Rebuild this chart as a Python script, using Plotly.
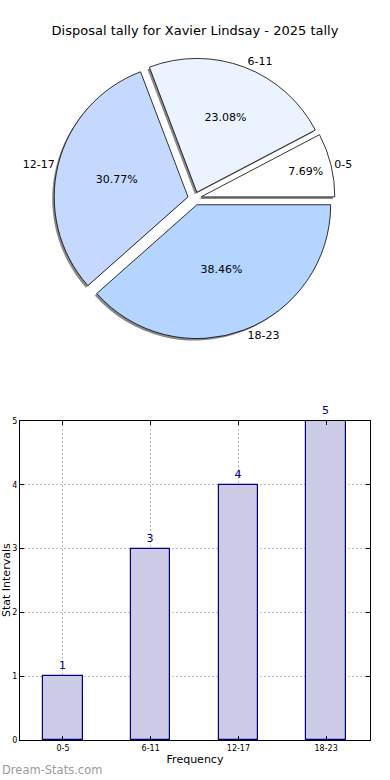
import plotly.graph_objects as go

categories = ["0-5", "6-11", "12-17", "18-23"]
counts = [1, 3, 4, 5]
pie_colors = ["#ffffff", "#ebf3ff", "#c5d9ff", "#b3d5ff"]
title_text = "Disposal tally for Xavier Lindsay - 2025 tally"

W, H = 390, 780
FONT = "DejaVu Sans"

def px_x(x):
    return x / W

def px_y(y):
    return 1 - y / H

pull = [0.05] * len(categories)
rot = 62.3

# pie domain (pixels)
pl, pr, pt, pb = 54, 335, 58, 339
shadow_dx, shadow_dy = -2, 2

fig = go.Figure()

# shadow
fig.add_trace(go.Pie(
    labels=categories, values=counts, sort=False, direction="counterclockwise",
    rotation=rot, pull=pull,
    marker=dict(colors=["#8a8a8a"] * 4, line=dict(width=0)),
    textinfo="none", hoverinfo="skip", showlegend=False,
    domain=dict(x=[px_x(pl + shadow_dx), px_x(pr + shadow_dx)],
                y=[px_y(pb + shadow_dy), px_y(pt + shadow_dy)]),
))

# main pie with percents inside
fig.add_trace(go.Pie(
    labels=categories, values=counts, sort=False, direction="counterclockwise",
    rotation=rot, pull=pull,
    marker=dict(colors=pie_colors, line=dict(color="black", width=0.8)),
    texttemplate="%{percent:.2%}", textposition="inside",
    insidetextorientation="horizontal",
    textfont=dict(family=FONT, size=11, color="black"),
    showlegend=False,
    domain=dict(x=[px_x(pl), px_x(pr)], y=[px_y(pb), px_y(pt)]),
))

# labels outside
fig.add_trace(go.Pie(
    labels=categories, values=counts, sort=False, direction="counterclockwise",
    rotation=rot, pull=pull,
    marker=dict(colors=["rgba(0,0,0,0)"] * 4, line=dict(width=0)),
    textinfo="label", textposition="outside",
    textfont=dict(family=FONT, size=11, color="black"),
    hoverinfo="skip", showlegend=False,
    domain=dict(x=[px_x(pl), px_x(pr)], y=[px_y(pb), px_y(pt)]),
))

# bar chart
fig.add_trace(go.Bar(
    x=categories, y=counts, width=0.45,
    marker=dict(color="#ccccE6", line=dict(color="#000080", width=1.2)),
    text=[str(v) for v in counts], textposition="outside",
    textfont=dict(family=FONT, size=11, color="#000080"),
    cliponaxis=False, showlegend=False,
    xaxis="x", yaxis="y",
))

axis_common = dict(
    showline=True, linecolor="black", linewidth=1, mirror="ticks",
    ticks="inside", ticklen=4, tickcolor="black",
    showgrid=True, gridcolor="#bdbdbd", griddash="2px,2px", gridwidth=1,
    zeroline=False, automargin=False,
    tickfont=dict(family=FONT, size=8, color="black"),
)

fig.update_layout(
    width=W, height=H,
    margin=dict(l=0, r=0, t=0, b=0, autoexpand=False),
    paper_bgcolor="white", plot_bgcolor="white",
    font=dict(family=FONT, color="black"),
    title=dict(text=title_text, x=0.5, xanchor="center", y=px_y(30), yanchor="middle",
               yref="container", automargin=False,
               font=dict(family=FONT, size=13, color="black")),
    xaxis=dict(domain=[px_x(20), px_x(370)], range=[-0.49, 3.5],
               title=dict(text="Frequency", standoff=3, font=dict(family=FONT, size=11)),
               **axis_common),
    yaxis=dict(domain=[px_y(740), px_y(421)], range=[0, 5], dtick=1,
               **axis_common),
    bargap=0,
    annotations=[
        dict(text="Stat Intervals", xref="paper", yref="paper", x=px_x(6), y=px_y(580),
             textangle=-90, showarrow=False, xanchor="center", yanchor="middle",
             font=dict(family=FONT, size=11, color="black")),
        dict(text="Dream-Stats.com", xref="paper", yref="paper", x=0, y=px_y(770),
             showarrow=False, xanchor="left", yanchor="middle",
             font=dict(family=FONT, size=11.5, color="#9a9a9a")),
    ],
)

fig.write_html("out.html",
               config={"displayModeBar": False},
               post_script="document.body.style.margin='0';document.body.style.overflow='hidden';")
